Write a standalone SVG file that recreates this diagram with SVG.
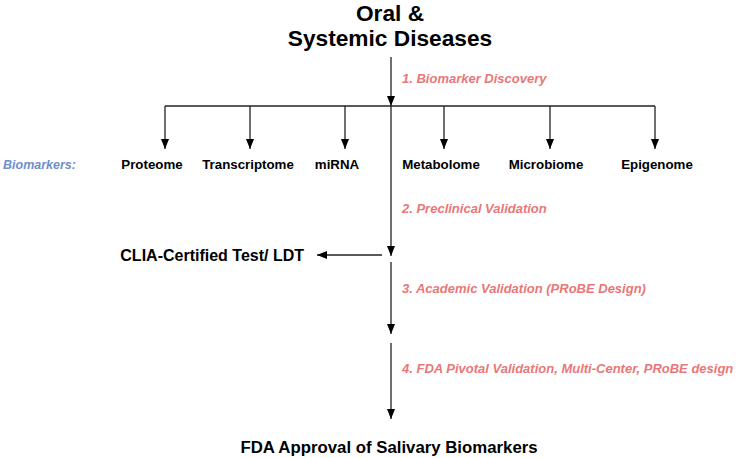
<svg xmlns="http://www.w3.org/2000/svg" width="747" height="458" viewBox="0 0 747 458">
<style>
text{font-family:"Liberation Sans",Arial,sans-serif;font-weight:bold;fill:#000}
.title{font-size:22.7px;text-anchor:middle}
.step{font-size:13px;font-style:italic;fill:#e97777}
.node{font-size:13.3px;text-anchor:middle}
.big{font-size:16px}
.lbl{font-size:12.5px;font-style:italic;fill:#6d8fcc}
.ln{stroke:#222;stroke-width:1.3;fill:none}
.arr{stroke:#222;stroke-width:1.3;fill:none;marker-end:url(#ah)}
</style>
<defs>
<marker id="ah" markerUnits="userSpaceOnUse" markerWidth="10" markerHeight="8" refX="10" refY="4" orient="auto">
<path d="M0,0 L10,4 L0,8 z" fill="#000"/>
</marker>
</defs>
<rect width="747" height="458" fill="#fff"/>
<g id="connectors">
<line class="arr" x1="391" y1="57" x2="391" y2="106"/>
<line class="ln" x1="165" y1="106" x2="655" y2="106"/>
<line class="arr" x1="165" y1="106" x2="165" y2="149"/>
<line class="arr" x1="250" y1="106" x2="250" y2="149"/>
<line class="arr" x1="345" y1="106" x2="345" y2="149"/>
<line class="arr" x1="444" y1="106" x2="444" y2="149"/>
<line class="arr" x1="550" y1="106" x2="550" y2="149"/>
<line class="arr" x1="655" y1="106" x2="655" y2="149"/>
<line class="arr" x1="391" y1="106" x2="391" y2="256"/>
<line class="arr" x1="382" y1="255" x2="317" y2="255"/>
<line class="arr" x1="391" y1="262" x2="391" y2="334"/>
<line class="arr" x1="391" y1="343" x2="391" y2="419"/>
</g>
<g id="title">
<text class="title" x="390" y="21">Oral &amp;</text>
<text class="title" x="390" y="46">Systemic Diseases</text>
</g>
<g id="steps">
<text class="step" x="402" y="83">1. Biomarker Discovery</text>
<text class="step" x="402" y="213">2. Preclinical Validation</text>
<text class="step" x="402" y="293">3. Academic Validation (PRoBE Design)</text>
<text class="step" x="402" y="373">4. FDA Pivotal Validation, Multi-Center, PRoBE design</text>
</g>
<g id="biomarkers-label"><text class="lbl" x="3" y="169">Biomarkers:</text></g>
<g id="proteome"><text class="node" x="152" y="169">Proteome</text></g>
<g id="transcriptome"><text class="node" x="248" y="169">Transcriptome</text></g>
<g id="mirna"><text class="node" x="337" y="169">miRNA</text></g>
<g id="metabolome"><text class="node" x="441" y="169">Metabolome</text></g>
<g id="microbiome"><text class="node" x="546" y="169">Microbiome</text></g>
<g id="epigenome"><text class="node" x="657" y="169">Epigenome</text></g>
<g id="clia"><text class="big" x="304" y="261" text-anchor="end">CLIA-Certified Test/ LDT</text></g>
<g id="fda-approval"><text class="big" x="389" y="453" text-anchor="middle" style="font-size:16.8px">FDA Approval of Salivary Biomarkers</text></g>
</svg>
